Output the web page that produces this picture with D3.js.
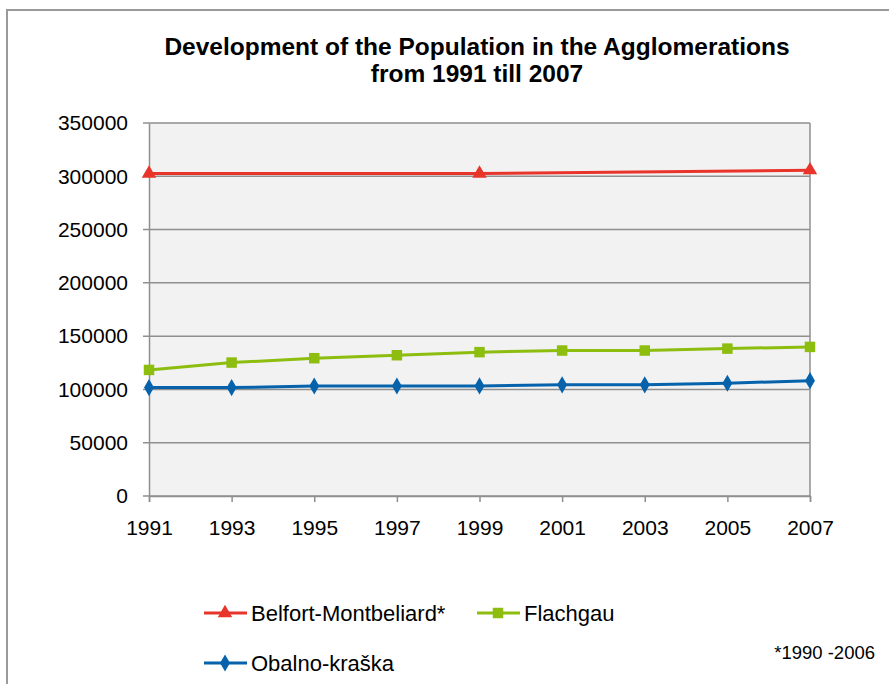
<!DOCTYPE html>
<html>
<head>
<meta charset="utf-8">
<script src="https://cdn.jsdelivr.net/npm/d3@7"></script>
<style>
  body { margin: 0; background: #fff; }
  text { font-family: "Liberation Sans", Arial, sans-serif; fill: #000; }
</style>
</head>
<body>
<svg width="889" height="684"></svg>
<script>
var years = ['1991', '1993', '1995', '1997', '1999', '2001', '2003', '2005', '2007'];
var yTicks = [0, 50000, 100000, 150000, 200000, 250000, 300000, 350000];

// Belfort only has values for 3 years
var belfortYears = ['1991', '1999', '2007'];
var belfort = [302500, 302500, 305700];
var flachgau = [118300, 125200, 129300, 132100, 135000, 136500, 136500, 138300, 139900];
var obalno = [101700, 101700, 103200, 103200, 103300, 104300, 104300, 105800, 108200];

var series = [
  {name: 'Belfort-Montbeliard*', color: '#e8342a', symbol: d3.symbolTriangle, size: 90, xs: belfortYears, ys: belfort},
  {name: 'Flachgau', color: '#8cbd0f', symbol: d3.symbolSquare, size: 110, xs: years, ys: flachgau},
  {name: 'Obalno-kraška', color: '#0562ab', symbol: d3.symbolDiamond, size: 85, xs: years, ys: obalno}
];

var svg = d3.select('svg');
var plot = {l: 149, r: 810, t: 123, b: 496};

// outer frame (only top and left edges visible)
svg.append('path')
  .attr('d', 'M7,684 V10 H889')
  .attr('fill', 'none')
  .attr('stroke', '#9a9a9a')
  .attr('stroke-width', 2);

svg.append('text')
  .attr('x', 477).attr('y', 55)
  .attr('text-anchor', 'middle')
  .style('font-size', '24.5px').style('font-weight', 'bold')
  .text('Development of the Population in the Agglomerations');
svg.append('text')
  .attr('x', 477).attr('y', 82)
  .attr('text-anchor', 'middle')
  .style('font-size', '24.5px').style('font-weight', 'bold')
  .text('from 1991 till 2007');

var x = d3.scalePoint().domain(years).range([plot.l, plot.r]);
var y = d3.scaleLinear().domain([0, 350000]).range([plot.b, plot.t]);

svg.append('rect')
  .attr('x', plot.l).attr('y', plot.t)
  .attr('width', plot.r - plot.l).attr('height', plot.b - plot.t)
  .attr('fill', '#f2f2f2');

// gridlines
svg.append('g')
  .selectAll('line')
  .data(yTicks)
  .enter().append('line')
  .attr('x1', plot.l - 6).attr('x2', plot.r)
  .attr('y1', function(d) { return y(d); })
  .attr('y2', function(d) { return y(d); })
  .attr('stroke', '#8f8f8f').attr('stroke-width', 1.5);

svg.append('line')
  .attr('x1', plot.r).attr('x2', plot.r)
  .attr('y1', plot.t).attr('y2', plot.b)
  .attr('stroke', '#8f8f8f').attr('stroke-width', 1.5);

var yAxis = d3.axisLeft(y).tickValues(yTicks).tickSize(0).tickPadding(21).tickFormat(d3.format('d'));
svg.append('g')
  .attr('class', 'y-axis')
  .attr('transform', 'translate(' + plot.l + ',0)')
  .call(yAxis)
  .call(function(g) {
    g.select('.domain').attr('stroke', '#8f8f8f').attr('stroke-width', 1.5);
    g.selectAll('text').style('font-size', '21px').attr('font-family', null);
  });

var xAxis = d3.axisBottom(x).tickSize(6).tickPadding(18);
svg.append('g')
  .attr('class', 'x-axis')
  .attr('transform', 'translate(0,' + plot.b + ')')
  .call(xAxis)
  .call(function(g) {
    g.select('.domain').attr('stroke', '#8f8f8f').attr('stroke-width', 1.5);
    g.selectAll('.tick line').attr('stroke', '#8f8f8f').attr('stroke-width', 1.5);
    g.selectAll('text').style('font-size', '21px').attr('font-family', null);
  });

var line = d3.line()
  .x(function(d) { return x(d[0]); })
  .y(function(d) { return y(d[1]); });

series.forEach(function(s) {
  var pts = s.xs.map(function(yr, i) { return [yr, s.ys[i]]; });
  svg.append('path')
    .datum(pts)
    .attr('d', line)
    .attr('fill', 'none')
    .attr('stroke', s.color)
    .attr('stroke-width', 3);
  svg.append('g')
    .selectAll('path')
    .data(pts)
    .enter().append('path')
    .attr('d', d3.symbol().type(s.symbol).size(s.size))
    .attr('transform', function(d) { return 'translate(' + x(d[0]) + ',' + y(d[1]) + ')'; })
    .attr('fill', s.color);
});

// legend
var legendPos = [[204, 613], [477, 613], [204, 663]];
series.forEach(function(s, i) {
  var g = svg.append('g')
    .attr('transform', 'translate(' + legendPos[i] + ')');
  g.append('line')
    .attr('x1', 0).attr('x2', 43)
    .attr('stroke', s.color).attr('stroke-width', 3);
  g.append('path')
    .attr('d', d3.symbol().type(s.symbol).size(s.size))
    .attr('transform', 'translate(21,0)')
    .attr('fill', s.color);
  g.append('text')
    .attr('x', 47).attr('dy', '0.35em')
    .style('font-size', '22px')
    .text(s.name);
});

svg.append('text')
  .attr('x', 875).attr('y', 659)
  .attr('text-anchor', 'end')
  .style('font-size', '18.5px')
  .text('*1990 -2006');
</script>
</body>
</html>
